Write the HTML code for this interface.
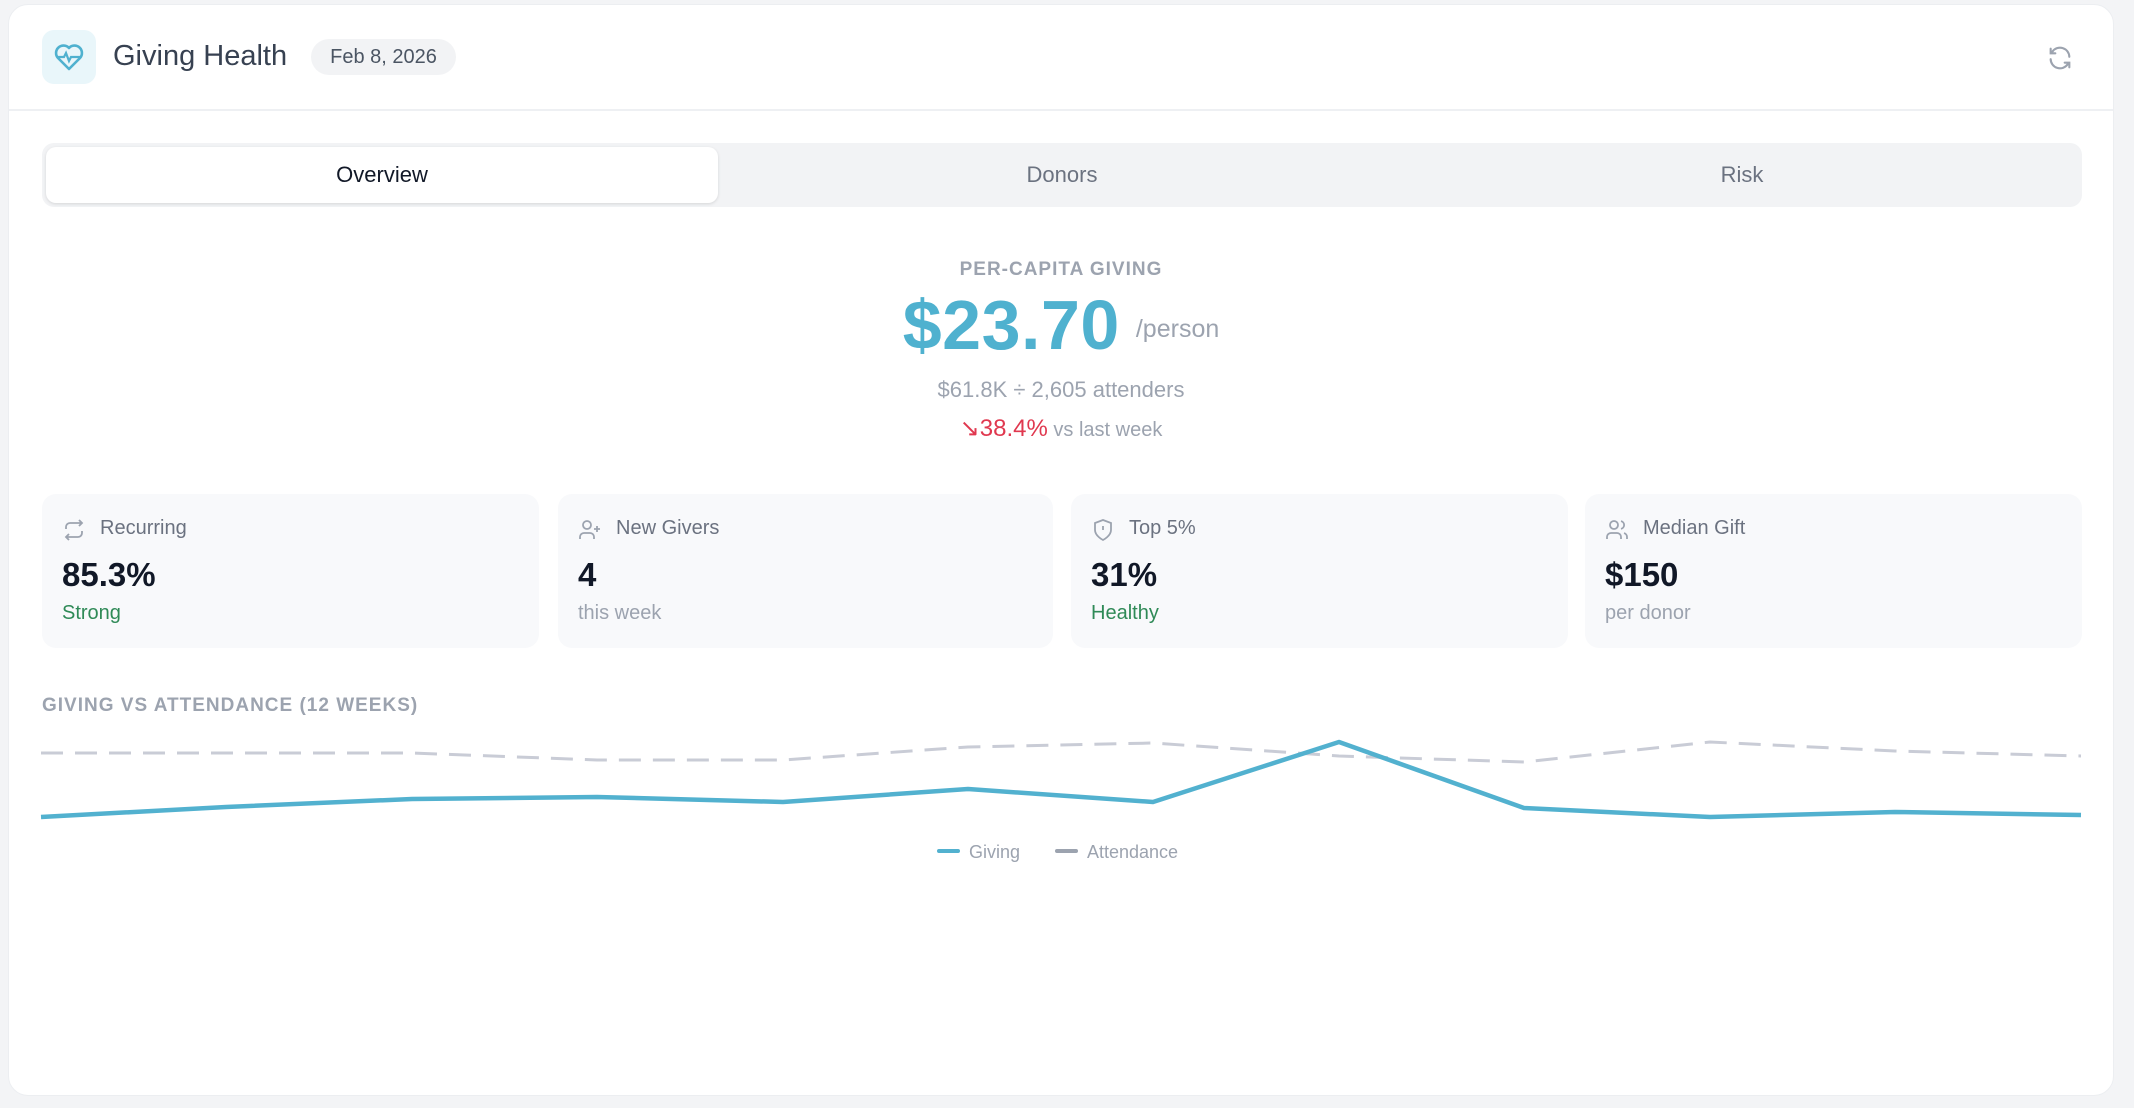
<!DOCTYPE html>
<html><head><meta charset="utf-8"><style>
*{box-sizing:border-box;margin:0;padding:0}
body{width:2134px;height:1108px;background:#f3f4f6;font-family:"Liberation Sans",sans-serif;position:relative;overflow:hidden}
.card{position:absolute;left:8px;top:4px;width:2106px;height:1092px;background:#fff;border:1px solid #eceef1;border-radius:20px}
.abs{position:absolute}
.hdr{position:absolute;left:0;top:104px;width:100%;height:2px;background:#eef0f3}
.tabs{position:absolute;left:33px;top:138px;width:2040px;height:64px;background:#f2f3f5;border-radius:12px}
.tab{position:absolute;top:0;height:64px;line-height:64px;text-align:center;font-size:22px;color:#6b7280}
.act{left:4px;top:4px;height:56px;line-height:56px;width:672px;background:#fff;border-radius:10px;color:#111827;box-shadow:0 1px 3px rgba(0,0,0,.12)}
.c{position:absolute;left:0;width:100%;text-align:center}
.mc{position:absolute;top:489px;height:154px;background:#f8f9fb;border-radius:14px}
.lab{position:absolute;left:58px;top:23px;font-size:20px;color:#6b7280}
.ic{position:absolute;left:20px;top:24px}
.val{position:absolute;left:20px;top:62px;font-size:33px;font-weight:bold;color:#111827}
.sub{position:absolute;left:20px;top:108px;font-size:20px;color:#9ca3af}
.g{color:#2f8a57}
</style></head><body>
<div class="card">
 <div class="abs" style="left:33px;top:25px;width:54px;height:54px;background:#e9f6fa;border-radius:12px">
  <svg width="54" height="54" viewBox="0 0 54 54"><path d="M27 39 L16 28 A7 7 0 0 1 27 18 A7 7 0 0 1 38 28 Z" fill="none" stroke="#4fb1cf" stroke-width="2.6" stroke-linejoin="round"/><path d="M15 27 H22 L24 23 L27 31 L29 27 H39" fill="none" stroke="#4fb1cf" stroke-width="2.2"/></svg>
 </div>
 <div class="abs" style="left:104px;top:35px;font-size:29px;color:#374151">Giving Health</div>
 <div class="abs" style="left:302px;top:34px;width:145px;height:36px;background:#f2f3f5;border-radius:18px;font-size:20px;line-height:36px;text-align:center;color:#4b5563">Feb 8, 2026</div>
 <svg class="abs" style="left:2037px;top:39px" width="28" height="28" viewBox="0 0 24 24" fill="none" stroke="#9ca3af" stroke-width="1.8" stroke-linecap="round"><path d="M20 11a8 8 0 0 0-14.5-4.5M4 4v4h4M4 13a8 8 0 0 0 14.5 4.5M20 20v-4h-4"/></svg>
 <div class="hdr"></div>
 <div class="tabs">
  <div class="tab act">Overview</div>
  <div class="tab" style="left:680px;width:680px">Donors</div>
  <div class="tab" style="left:1360px;width:680px">Risk</div>
 </div>
 <div class="c" style="top:254px;font-size:19px;letter-spacing:1px;color:#9ca3af;font-weight:bold">PER-CAPITA GIVING</div>
 <div class="c" style="top:280px;height:80px"><span style="font-size:70px;font-weight:bold;color:#4fb1cf;letter-spacing:0.5px">$23.70</span><span style="font-size:25px;color:#9ca3af;margin-left:16px;position:relative;top:-12px">/person</span></div>
 <div class="c" style="top:372px;font-size:22px;color:#9ca3af">$61.8K ÷ 2,605 attenders</div>
 <div class="c" style="top:409px;font-size:20px;color:#9ca3af"><span style="color:#e0384f;font-size:24px">↘38.4%</span> vs last week</div>

 <div class="mc" style="left:33px;width:497px"><svg class="ic" width="24" height="24" viewBox="0 0 24 24" fill="none" stroke="#9ca3af" stroke-width="1.8"><path d="M17 2l3 3-3 3M4 11V9a4 4 0 0 1 4-4h12M7 22l-3-3 3-3M20 13v2a4 4 0 0 1-4 4H4"/></svg><div class="lab">Recurring</div><div class="val">85.3%</div><div class="sub g">Strong</div></div>
 <div class="mc" style="left:549px;width:495px"><svg class="ic" width="24" height="24" viewBox="0 0 24 24" fill="none" stroke="#9ca3af" stroke-width="1.8"><circle cx="9" cy="7" r="4"/><path d="M2 21v-2a4 4 0 0 1 4-4h6a4 4 0 0 1 4 4v2M19 8v6M16 11h6"/></svg><div class="lab">New Givers</div><div class="val">4</div><div class="sub">this week</div></div>
 <div class="mc" style="left:1062px;width:497px"><svg class="ic" width="24" height="24" viewBox="0 0 24 24" fill="none" stroke="#9ca3af" stroke-width="1.8"><path d="M12 22s8-4 8-10V5l-8-3-8 3v7c0 6 8 10 8 10zM12 8v4M12 16h.01"/></svg><div class="lab">Top 5%</div><div class="val">31%</div><div class="sub g">Healthy</div></div>
 <div class="mc" style="left:1576px;width:497px"><svg class="ic" width="24" height="24" viewBox="0 0 24 24" fill="none" stroke="#9ca3af" stroke-width="1.8"><circle cx="9" cy="7" r="4"/><path d="M2 21v-2a4 4 0 0 1 4-4h6a4 4 0 0 1 4 4v2M16 3.1a4 4 0 0 1 0 7.8M22 21v-2a4 4 0 0 0-3-3.9"/></svg><div class="lab">Median Gift</div><div class="val">$150</div><div class="sub">per donor</div></div>

 <div class="abs" style="left:33px;top:690px;font-size:19px;letter-spacing:1px;color:#9ca3af;font-weight:bold">GIVING VS ATTENDANCE (12 WEEKS)</div>
</div>
<svg class="abs" style="left:0;top:0" width="2134" height="1108">
 <polyline fill="none" stroke="#c9ccd6" stroke-width="3" stroke-dasharray="22 12" points="41,753 226,753 412,753 597,760 783,760 968,747 1153,743 1339,756 1524,762 1710,742 1895,751 2081,756"/>
 <polyline fill="none" stroke="#52b1cf" stroke-width="4.5" stroke-linejoin="round" points="41,817 226,807 412,799 597,797 783,802 968,789 1153,802 1339,742 1524,808 1710,817 1895,812 2081,815"/>
 <rect x="937" y="849" width="23" height="4" rx="2" fill="#52b1cf"/>
 <text x="969" y="858" font-size="18" fill="#9ca3af" font-family="Liberation Sans, sans-serif">Giving</text>
 <rect x="1055" y="849" width="23" height="4" rx="2" fill="#9ca3af"/>
 <text x="1087" y="858" font-size="18" fill="#9ca3af" font-family="Liberation Sans, sans-serif">Attendance</text>
</svg>
</body></html>
